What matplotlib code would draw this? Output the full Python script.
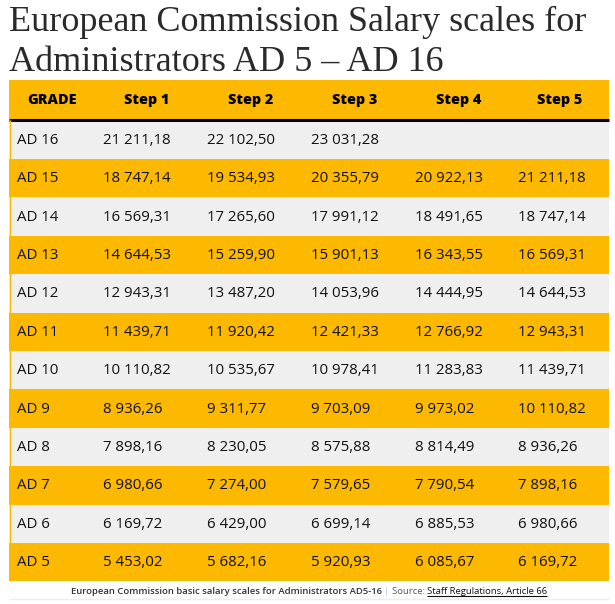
import matplotlib
matplotlib.use('Agg')
import matplotlib.pyplot as plt

# Dados da tabela
grades = ['AD 16', 'AD 15', 'AD 14', 'AD 13', 'AD 12', 'AD 11',
          'AD 10', 'AD 9', 'AD 8', 'AD 7', 'AD 6', 'AD 5']
headers = ['GRADE', 'Step 1', 'Step 2', 'Step 3', 'Step 4', 'Step 5']
step1 = [21211.18, 18747.14, 16569.31, 14644.53, 12943.31, 11439.71,
         10110.82, 8936.26, 7898.16, 6980.66, 6169.72, 5453.02]
step2 = [22102.50, 19534.93, 17265.60, 15259.90, 13487.20, 11920.42,
         10535.67, 9311.77, 8230.05, 7274.00, 6429.00, 5682.16]
step3 = [23031.28, 20355.79, 17991.12, 15901.13, 14053.96, 12421.33,
         10978.41, 9703.09, 8575.88, 7579.65, 6699.14, 5920.93]
step4 = [None, 20922.13, 18491.65, 16343.55, 14444.95, 12766.92,
         11283.83, 9973.02, 8814.49, 7790.54, 6885.53, 6085.67]
step5 = [None, 21211.18, 18747.14, 16569.31, 14644.53, 12943.31,
         11439.71, 10110.82, 8936.26, 7898.16, 6980.66, 6169.72]

title_l1 = 'European Commission Salary scales for'
title_l2 = 'Administrators AD 5 \u2013 AD 16'
footer_bold = 'European Commission basic salary scales for Administrators AD5-16'
footer_src = 'Source: '
footer_link = 'Staff Regulations, Article 66'

laranja = '#FCB900'
cinza = '#EFEFEF'


def formata(v):
    if v is None:
        return ''
    return f'{v:,.2f}'.replace(',', ' ').replace('.', ',')


# Geometria da tabela (em pixels)
left, right = 9, 609
header_top, header_bot = 80, 119
row_h = (581 - 120) / len(grades)
col_left = [9, 95, 199, 303, 407, 510, 609]

fig = plt.figure(figsize=(6.15, 6.04), dpi=100)
ax = fig.add_axes([0, 0, 1, 1])
ax.set_xlim(0, 615)
ax.set_ylim(604, 0)
ax.axis('off')

# Titulo
ax.text(9, 31, title_l1, fontsize=26, family='Liberation Serif', color='#2a2a2a',
        va='baseline', ha='left')
ax.text(9, 71, title_l2, fontsize=26, family='Liberation Serif', color='#2a2a2a',
        va='baseline', ha='left')

# Cabecalho
ax.barh((header_top + header_bot) / 2, right - left, left=left,
        height=header_bot - header_top, color=laranja)
ax.hlines(119.5, left, right, color='black', lw=2.2)
for i, h in enumerate(headers):
    cx = (col_left[i] + col_left[i + 1]) / 2
    ax.text(cx, 100, h, fontsize=10.4, family='Open Sans', weight='heavy',
            ha='center', va='center', color='black')

# Linhas
colunas = [step1, step2, step3, step4, step5]
for r, g in enumerate(grades):
    yc = 121 + row_h * (r + 0.5)
    cor = cinza if r % 2 == 0 else laranja
    ax.barh(yc - 0.5, right - left, left=left, height=row_h, color=cor)
    ax.text(col_left[0] + 8, yc, g, fontsize=10.8, family='Open Sans',
            ha='left', va='center', color='#111111')
    for c, serie in enumerate(colunas):
        ax.text(col_left[c + 1] + 8, yc, formata(serie[r]), fontsize=10.8,
                family='Open Sans', ha='left', va='center', color='#111111')
# borda laranja a esquerda
ax.vlines(left + 0.5, 120, 581, color=laranja, lw=1)

# Rodape
ax.hlines(598.5, left, right, color='#EEEEEE', lw=1)
fig.canvas.draw()
renderer = fig.canvas.get_renderer()
inv = ax.transData.inverted()

pecas = [
    (footer_bold, dict(weight='semibold', color='#333333'), False),
    (' ', dict(color='#333333'), False),
    ('|', dict(color='#A8C4DC'), False),
    (' ', dict(color='#333333'), False),
    (footer_src, dict(color='#555555'), False),
    (footer_link, dict(color='#111111'), True),
]
objs = []
x = 0
for txt, kw, sub in pecas:
    t = ax.text(x, 594, txt, fontsize=6.8, family='Open Sans', ha='left',
                va='baseline', **kw)
    bb = t.get_window_extent(renderer)
    w = inv.transform((bb.x1, 0))[0] - inv.transform((bb.x0, 0))[0]
    objs.append((t, x, w, sub))
    x += w
total = x
x0 = 309 - total / 2
for t, xs, w, sub in objs:
    t.set_x(x0 + xs)
    if sub:
        ax.hlines(596, x0 + xs, x0 + xs + w, color='#111111', lw=0.8)

fig.savefig('out.png', dpi=100)
